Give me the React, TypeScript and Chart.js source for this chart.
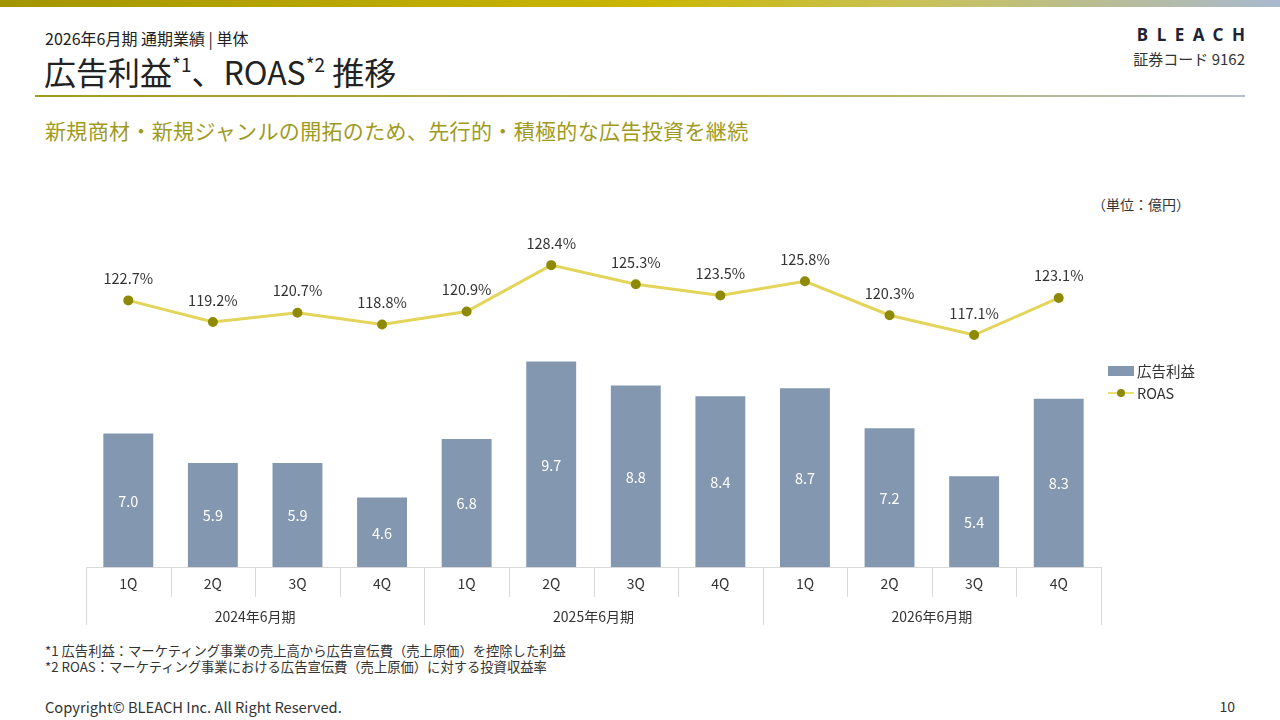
import React, { useEffect, useRef } from "react";
import { Chart, registerables } from "chart.js";

Chart.register(...registerables);

const quarters = ["1Q", "2Q", "3Q", "4Q", "1Q", "2Q", "3Q", "4Q", "1Q", "2Q", "3Q", "4Q"];
const fiscalYears = ["2024年6月期", "2025年6月期", "2026年6月期"];
const adProfit = [7.0, 5.9, 5.9, 4.6, 6.8, 9.7, 8.8, 8.4, 8.7, 7.2, 5.4, 8.3];
const roas = [122.7, 119.2, 120.7, 118.8, 120.9, 128.4, 125.3, 123.5, 125.8, 120.3, 117.1, 123.1];

const FONT = "'Noto Sans CJK JP', 'Noto Sans', sans-serif";
const BAR_COLOR = "#8497b0";
const LINE_COLOR = "#e3d45a";
const POINT_COLOR = "#8f8a06";
const GRID_COLOR = "#d9d9d9";

const axisPlugin = {
  id: "customAxis",
  afterDatasetsDraw(chart: any) {
    const ctx = chart.ctx;
    const area = chart.chartArea;
    const xs = chart.scales.x;
    const n = quarters.length;
    const w = (area.right - area.left) / n;
    ctx.save();
    ctx.strokeStyle = GRID_COLOR;
    ctx.lineWidth = 1;
    ctx.beginPath();
    ctx.moveTo(area.left, area.bottom + 0.5);
    ctx.lineTo(area.right, area.bottom + 0.5);
    ctx.stroke();
    for (let k = 0; k <= n; k++) {
      const x = Math.round(area.left + k * w) + 0.5;
      const len = k % 4 === 0 ? 58 : 30;
      ctx.beginPath();
      ctx.moveTo(x, area.bottom);
      ctx.lineTo(x, area.bottom + len);
      ctx.stroke();
    }
    ctx.fillStyle = "#333333";
    ctx.textAlign = "center";
    ctx.textBaseline = "middle";
    ctx.font = `14px ${FONT}`;
    quarters.forEach((q, i) => {
      ctx.fillText(q, xs.getPixelForValue(i), area.bottom + 17);
    });
    fiscalYears.forEach((y, j) => {
      const cx = area.left + (j * 4 + 2) * w;
      ctx.fillText(y, cx, area.bottom + 50);
    });
    const barMeta = chart.getDatasetMeta(0);
    ctx.fillStyle = "#ffffff";
    ctx.font = `14.5px ${FONT}`;
    barMeta.data.forEach((el: any, i: number) => {
      const base = Math.min(el.base, area.bottom);
      ctx.fillText(adProfit[i].toFixed(1), el.x, (el.y + base) / 2 + 1);
    });
    const lineMeta = chart.getDatasetMeta(1);
    ctx.fillStyle = "#333333";
    ctx.font = `14.5px ${FONT}`;
    lineMeta.data.forEach((el: any, i: number) => {
      ctx.fillText(roas[i].toFixed(1) + "%", el.x, el.y - 22);
    });
    ctx.restore();
  },
};

function Txt(props: { x: number; y: number; size: number; color?: string; children: any; align?: "left" | "right"; weight?: number; spacing?: number }) {
  const h = Math.round(props.size * 1.4);
  const style: any = {
    position: "absolute",
    top: props.y - h / 2,
    fontSize: props.size,
    lineHeight: `${h}px`,
    color: props.color || "#333333",
    whiteSpace: "nowrap",
    fontWeight: props.weight || 400,
    letterSpacing: props.spacing ? `${props.spacing}px` : undefined,
  };
  if (props.align === "right") style.right = 1280 - props.x;
  else style.left = props.x;
  return <div style={style}>{props.children}</div>;
}

const supStyle: any = { fontSize: 19, verticalAlign: "top", position: "relative", top: -7 };

export default function App() {
  const ref = useRef<HTMLCanvasElement>(null);
  useEffect(() => {
    if (!ref.current) return;
    const chart = new Chart(ref.current, {
      type: "bar",
      data: {
        labels: quarters,
        datasets: [
          {
            type: "bar",
            label: "広告利益",
            data: adProfit,
            backgroundColor: BAR_COLOR,
            barPercentage: 0.59,
            categoryPercentage: 1,
            yAxisID: "y",
            order: 2,
          },
          {
            type: "line",
            label: "ROAS",
            data: roas,
            borderColor: LINE_COLOR,
            borderWidth: 3,
            pointBackgroundColor: POINT_COLOR,
            pointBorderColor: POINT_COLOR,
            pointRadius: 3.5,
            tension: 0,
            yAxisID: "y1",
            order: 1,
          },
        ] as any,
      },
      options: {
        animation: false,
        responsive: false,
        maintainAspectRatio: false,
        layout: { padding: { left: 86, right: 179, top: 20, bottom: 73 } },
        plugins: { legend: { display: false }, tooltip: { enabled: false } },
        scales: {
          x: { display: false, offset: true, grid: { display: false } },
          y: { display: false, min: 2, max: 15, grid: { display: false } },
          y1: { display: false, min: 79.6, max: 135.7, grid: { display: false } },
        },
      },
      plugins: [axisPlugin],
    });
    return () => chart.destroy();
  }, []);

  return (
    <div style={{ position: "absolute", left: 0, top: 0, width: 1280, height: 720, background: "#ffffff", fontFamily: FONT, overflow: "hidden" }}>
      <div style={{ position: "absolute", left: 0, top: 0, width: 1280, height: 7, background: "linear-gradient(90deg, #a39500 0%, #cab600 50%, #c9c25a 72%, #a9b9cf 100%)" }} />
      <Txt x={45} y={38} size={16} color="#222222">2026年6月期 通期業績 | 単体</Txt>
      <div style={{ position: "absolute", left: 44, top: 49, fontSize: 32, lineHeight: "44px", color: "#222222", whiteSpace: "nowrap" }}>
        広告利益<sup style={supStyle}>*1</sup>、ROAS<sup style={supStyle}>*2</sup> 推移
      </div>
      <div style={{ position: "absolute", left: 35, top: 95, width: 1210, height: 2, background: "linear-gradient(90deg, #a39a1e 0%, #b9b24a 60%, #b3bfcc 100%)" }} />
      <Txt x={45} y={130} size={21} color="#a09a1e" spacing={0.35}>新規商材・新規ジャンルの開拓のため、先行的・積極的な広告投資を継続</Txt>
      <div style={{ position: "absolute", right: 35, top: 23, fontSize: 17, lineHeight: "24px", fontWeight: 700, color: "#1e2435", letterSpacing: "8.5px", marginRight: -8.5, whiteSpace: "nowrap", fontFamily: "'Noto Sans', sans-serif" }}>BLEACH</div>
      <Txt x={1245} y={58} size={15} align="right">証券コード 9162</Txt>
      <Txt x={1190} y={204} size={14} align="right">（単位：億円）</Txt>

      <div style={{ position: "absolute", left: 0, top: 200, width: 1280, height: 440 }}>
        <canvas ref={ref} width={1280} height={440} style={{ width: 1280, height: 440, display: "block" }} />
      </div>

      <div style={{ position: "absolute", left: 1108, top: 366, width: 26, height: 10, background: BAR_COLOR }} />
      <Txt x={1137} y={371} size={14.5}>広告利益</Txt>
      <div style={{ position: "absolute", left: 1108, top: 392, width: 26, height: 2, background: "#e8e070" }} />
      <div style={{ position: "absolute", left: 1117, top: 389, width: 8, height: 8, borderRadius: 4, background: POINT_COLOR }} />
      <Txt x={1137} y={393} size={14.5}>ROAS</Txt>

      <Txt x={45} y={650} size={13.3}>*1 広告利益：マーケティング事業の売上高から広告宣伝費（売上原価）を控除した利益</Txt>
      <Txt x={45} y={666} size={13.3}>*2 ROAS：マーケティング事業における広告宣伝費（売上原価）に対する投資収益率</Txt>
      <Txt x={45} y={706} size={14.7}>Copyright© BLEACH Inc. All Right Reserved.</Txt>
      <Txt x={1235} y={706} size={14} align="right">10</Txt>
    </div>
  );
}
